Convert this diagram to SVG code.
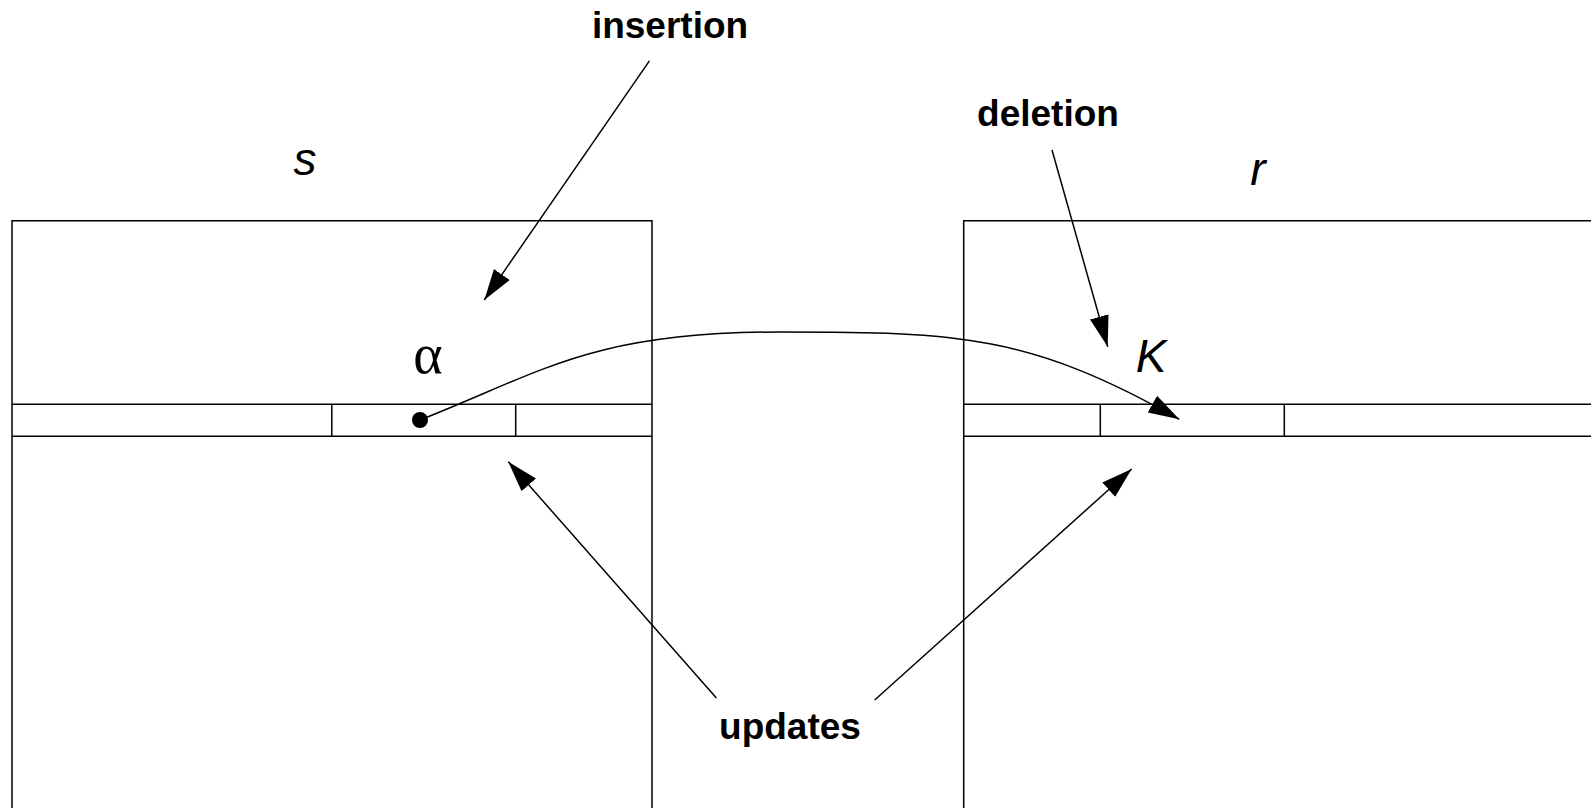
<svg xmlns="http://www.w3.org/2000/svg" width="1591" height="808" viewBox="0 0 1591 808">
<style>
.box{fill:none;stroke:#000;stroke-width:1.5}
.conn{fill:none;stroke:#000;stroke-width:1.5}
.lbl{font-family:"Liberation Sans",Arial,sans-serif;font-weight:bold;font-size:37px;text-anchor:middle;fill:#000}
.it{font-family:"Liberation Sans",Arial,sans-serif;font-style:italic;font-size:46px;text-anchor:middle;fill:#000}
.sym{font-family:"Liberation Serif","DejaVu Serif",serif;font-size:56px;text-anchor:middle;fill:#000}
</style>
<defs>
<marker id="ah" markerUnits="userSpaceOnUse" markerWidth="32" markerHeight="22" viewBox="0 0 30 20" refX="29" refY="10" orient="auto">
<path d="M0,1 L29,10 L0,19 Z" fill="#000"/>
</marker>
</defs>
<rect width="1591" height="808" fill="#fff"/>
<g id="s-table">
<path class="box" d="M12,830 V220.7 H652 V830"/>
<path class="box" d="M12,404.3 H652 M12,436.3 H652 M331.8,404.3 V436.3 M515.7,404.3 V436.3"/>
<text class="it" x="305" y="174.5">s</text>
<text class="sym" x="428" y="373">α</text>
</g>
<g id="r-table">
<path class="box" d="M963.7,830 V220.7 H1600"/>
<path class="box" d="M963.7,404.3 H1600 M963.7,436.3 H1600 M1100.3,404.3 V436.3 M1284.3,404.3 V436.3"/>
<text class="it" x="1258" y="184.7">r</text>
<text class="it" x="1151" y="372.4">K</text>
</g>
<g id="labels">
<text class="lbl" x="670" y="37.5">insertion</text>
<text class="lbl" x="1048" y="125.7">deletion</text>
<text class="lbl" x="790" y="738.5">updates</text>
</g>
<g id="connectors">
<circle cx="420" cy="420" r="8" fill="#000"/>
<path class="conn" d="M420,420 C540,373 590,332 780,332 C960,332 1030,335 1179.3,419.3" marker-end="url(#ah)"/>
<line class="conn" x1="649.4" y1="60.9" x2="484.3" y2="300" marker-end="url(#ah)"/>
<line class="conn" x1="1052" y1="150" x2="1107.7" y2="346.7" marker-end="url(#ah)"/>
<line class="conn" x1="716.4" y1="698" x2="508.3" y2="461.7" marker-end="url(#ah)"/>
<line class="conn" x1="874.7" y1="700" x2="1131.7" y2="469" marker-end="url(#ah)"/>
</g>
</svg>
